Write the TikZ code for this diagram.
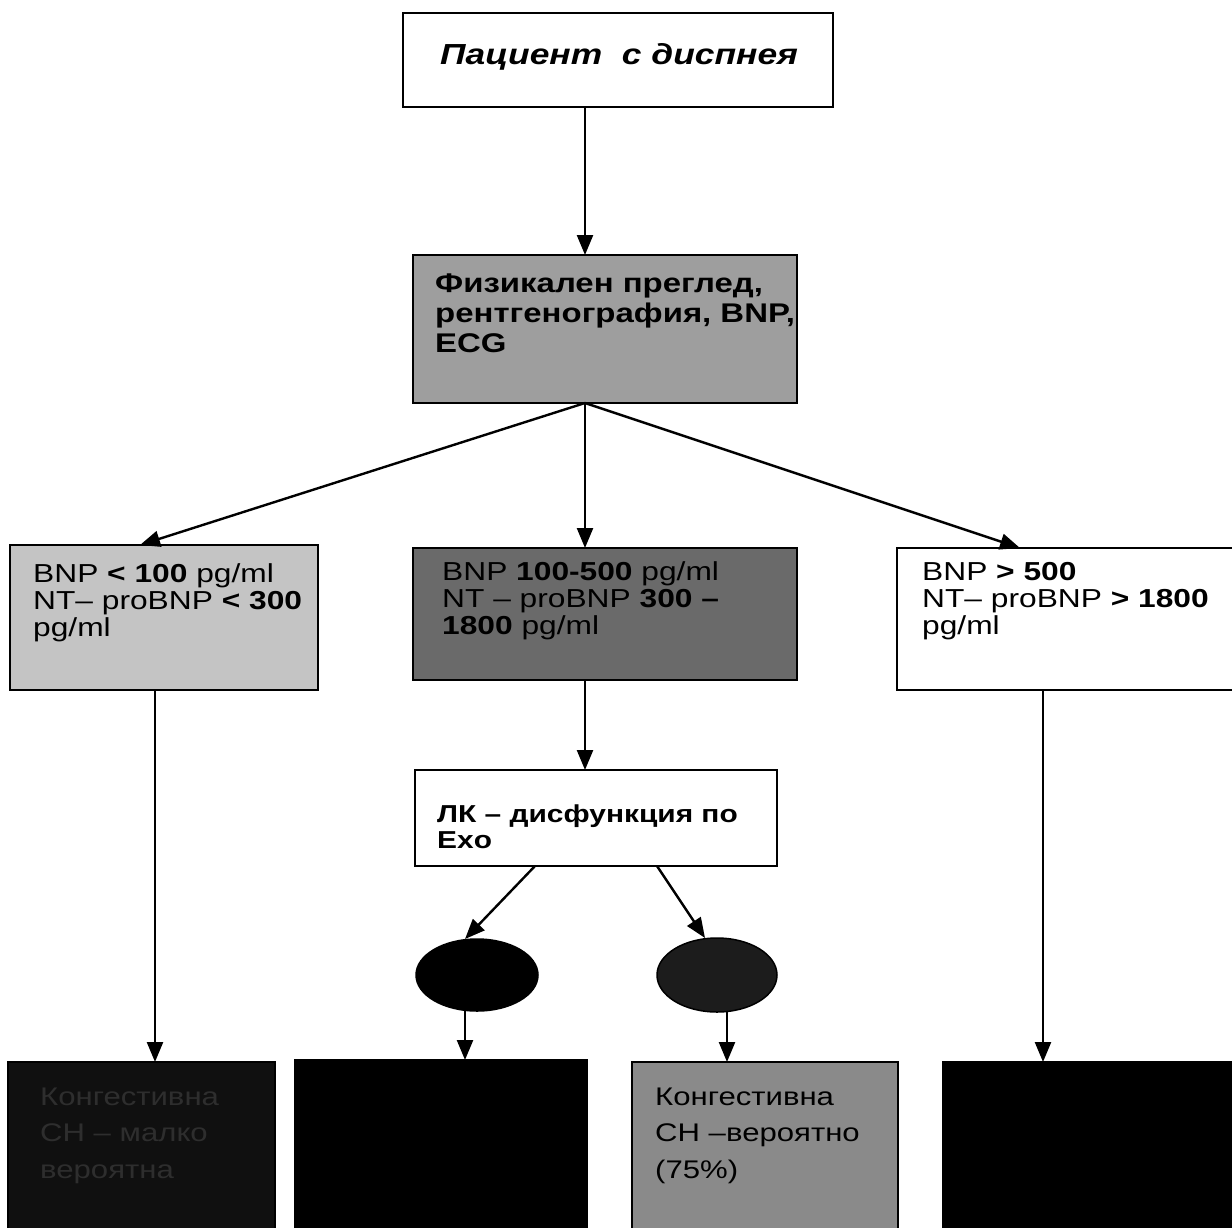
\documentclass[tikz,border=0pt]{standalone}
\usepackage{fontspec}
\setmainfont{Liberation Sans}[FakeStretch=1.22]
\usetikzlibrary{arrows.meta,shapes.geometric}
\definecolor{gPhys}{HTML}{9E9E9E}
\definecolor{gLow}{HTML}{C4C4C4}
\definecolor{gMid}{HTML}{6A6A6A}
\definecolor{gRes}{HTML}{8A8A8A}
\definecolor{gDark}{HTML}{101010}
\definecolor{gEll}{HTML}{1C1C1C}
\definecolor{gFaint}{HTML}{2E2E2E}
\begin{document}
\begin{tikzpicture}[x=1pt,y=-1pt,
  box/.style={draw=black, line width=2.4pt, anchor=north west, inner sep=0pt, outer sep=0pt},
  txt/.style={anchor=base west, align=left, inner sep=0pt, font=\fontsize{26}{27}\selectfont},
  arr/.style={line width=2.4pt, -{Triangle[length=20pt,width=16pt]}},
  ell/.style={ellipse, draw=black, line width=1.5pt, inner sep=0pt, outer sep=0pt}]
\clip (0,0) rectangle (1232,1227);
\fill[white] (0,0) rectangle (1232,1227);
% boxes
\node[box, fill=white, minimum width=430pt, minimum height=94pt] (top) at (403,13) {};
\node[box, fill=gPhys, minimum width=384pt, minimum height=148pt] (phys) at (413,255) {};
\node[box, fill=gLow, minimum width=308pt, minimum height=145pt] (low) at (10,545) {};
\node[box, fill=gMid, minimum width=384pt, minimum height=132pt] (mid) at (413,548) {};
\node[box, fill=white, minimum width=360pt, minimum height=142pt] (high) at (897,548) {};
\node[box, fill=white, minimum width=362pt, minimum height=96pt] (lk) at (415,770) {};
\node[ell, fill=black, minimum width=122pt, minimum height=72pt] (e1) at (477,975) {};
\node[ell, fill=gEll, minimum width=120pt, minimum height=74pt] (e2) at (717,975) {};
\node[box, fill=gDark, minimum width=267pt, minimum height=190pt] (r1) at (8,1062) {};
\node[box, fill=black, minimum width=292pt, minimum height=190pt] (r2) at (295,1060) {};
\node[box, fill=gRes, minimum width=266pt, minimum height=190pt] (r3) at (632,1062) {};
\node[box, fill=black, minimum width=320pt, minimum height=190pt] (r4) at (943,1062) {};
% connectors
\draw[arr] ([xshift=182pt]top.south west) -- ([xshift=172pt]phys.north west);
\draw[arr] ([xshift=172pt]phys.south west) -- ([xshift=130pt]low.north west);
\draw[arr] ([xshift=172pt]phys.south west) -- ([xshift=172pt]mid.north west);
\draw[arr] ([xshift=172pt]phys.south west) -- ([xshift=123pt]high.north west);
\draw[arr] ([xshift=145pt]low.south west) -- ([xshift=147pt]r1.north west);
\draw[arr] ([xshift=172pt]mid.south west) -- ([xshift=170pt]lk.north west);
\draw[arr] ([xshift=120pt]lk.south west) -- ([xshift=-12pt]e1.north);
\draw[arr] ([xshift=242pt]lk.south west) -- ([xshift=-12pt]e2.north);
\draw[arr] ([xshift=-12pt]e1.south) -- ([xshift=170pt]r2.north west);
\draw[arr] ([xshift=10pt]e2.south) -- ([xshift=95pt]r3.north west);
\draw[arr] ([xshift=146pt]high.south west) -- ([xshift=100pt]r4.north west);
% texts (base anchor = baseline of the last line)
\node[txt, font=\bfseries\itshape\fontsize{29}{30}\selectfont] (ttop) at (440,64) {Пациент\ \ с диспнея};
\node[txt, font=\bfseries\fontsize{27}{30}\selectfont] (tphys) at (435,352) {Физикален преглед,\\рентгенография, BNP,\\ECG};
\node[txt] (tlow) at (33,636) {BNP \textbf{< 100} pg/ml\\NT– proBNP \textbf{< 300}\\pg/ml};
\node[txt] (tmid) at (442,634) {BNP \textbf{100-500} pg/ml\\NT – proBNP \textbf{300 –}\\\textbf{1800} pg/ml};
\node[txt] (thigh) at (922,634) {BNP \textbf{> 500}\\NT– proBNP \textbf{> 1800}\\pg/ml};
\node[txt, font=\bfseries\fontsize{24.5}{26}\selectfont] (tlk) at (437,848) {ЛК – дисфункция по\\Exo};
\node[txt, font=\fontsize{25.5}{36.5}\selectfont] (tr3) at (655,1178) {Конгестивна\\СН –вероятно\\(75\%)};
\node[txt, font=\fontsize{25.5}{36.5}\selectfont, text=gFaint] (tr1) at (40,1178) {Конгестивна\\СН – малко\\вероятна};
\end{tikzpicture}
\end{document}
